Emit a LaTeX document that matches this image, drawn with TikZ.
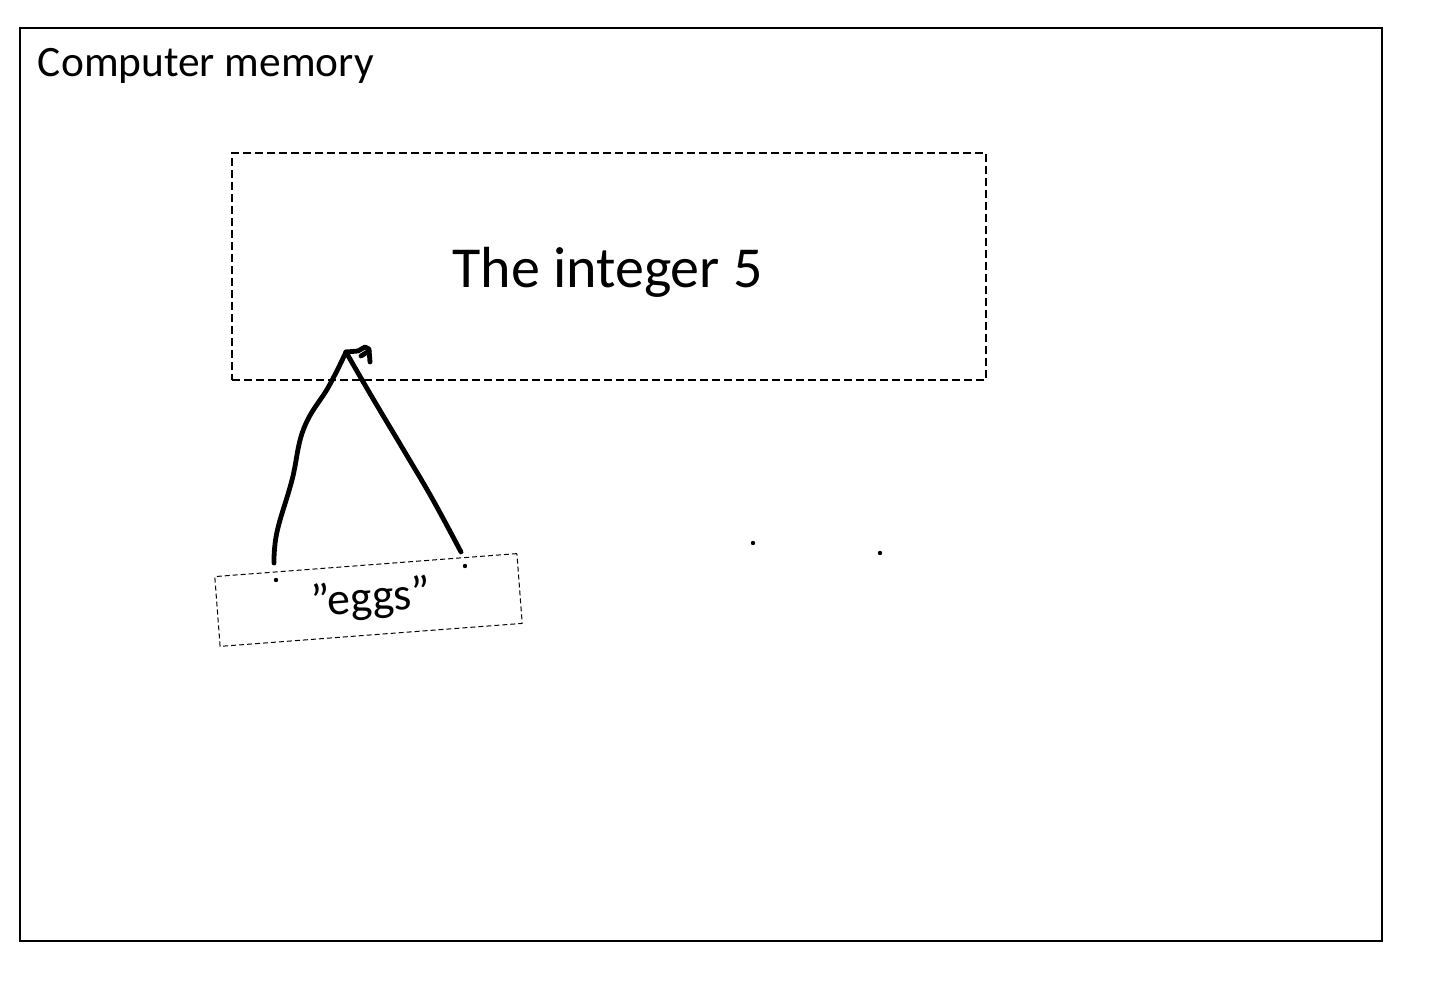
\documentclass[tikz,border=0pt]{standalone}
\usepackage{fontspec}
\setmainfont{Carlito}
\begin{document}
\begin{tikzpicture}[x=0.5pt,y=-0.5pt,
  frame/.style={draw=black,line width=1pt,inner sep=0pt,outer sep=0pt},
  dashbox/.style={draw=black,line width=0.7pt,dash pattern=on 4pt off 2pt,inner sep=0pt,outer sep=0pt},
  smalldash/.style={draw=black,line width=0.5pt,dash pattern=on 2.5pt off 1.5pt,inner sep=0pt,outer sep=0pt},
  stroke/.style={line width=2.4pt,line cap=round,line join=round},
  dotmark/.style={circle,fill=black,inner sep=0pt,minimum size=2.2pt},
  label/.style={inner sep=0pt,outer sep=0pt}]
\useasboundingbox (0,0) rectangle (1432,984);

% memory frame and its title
\node[frame,minimum width=681pt,minimum height=456.5pt] (memory) at (701,484.5) {};
\node[label,anchor=base west,font=\fontsize{21.7}{26}\selectfont] (title) at (38,77) {Computer memory};

% the object in memory
\node[dashbox,minimum width=377pt,minimum height=113.5pt] (intbox) at (609,266.5) {};
\node[label,anchor=base,font=\fontsize{29}{35}\selectfont] (inttext) at (607.5,288) {The integer 5};

% the name tag
\node[smalldash,rotate=4.35,minimum width=151.5pt,minimum height=35pt] (eggsbox) at (368.5,600) {};
\node[label,rotate=4.35,anchor=base,font=\fontsize{23}{28}\selectfont] (eggs) at (372,612) {”eggs”};

% small dots
\node[dotmark] (d1) at (276,580) {};
\node[dotmark] (d2) at (465,566) {};
\node[dotmark] (d3) at (753,543) {};
\node[dotmark] (d4) at (880,553) {};

% the hand-drawn reference arrow
\coordinate (lstart) at (274,563);
\coordinate (rstart) at (461,552);
\coordinate (peak) at (346,352);
\draw[stroke] plot[smooth,tension=0.7] coordinates
  {(lstart) (277,532) (292,480) (304,428) (329,386) (peak)};
\draw[stroke] plot[smooth,tension=0.7] coordinates
  {(rstart) (433,500) (406,454) (372,397) (peak)};
\draw[stroke] (peak) -- (358,351) -- (365,347) -- (369,349) -- (370,362);
\draw[stroke] (361,356) -- (369,351);
\end{tikzpicture}
\end{document}
